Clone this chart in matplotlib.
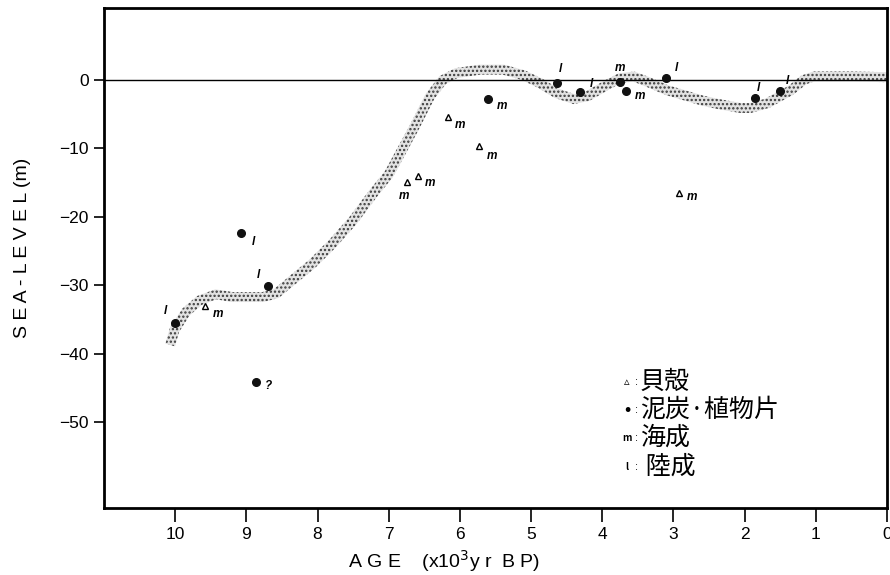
import numpy as np
import matplotlib
matplotlib.use('Agg')
import matplotlib.pyplot as plt
from matplotlib.patches import Polygon

plt.rcParams['font.family'] = ['Liberation Sans', 'DejaVu Sans']
plt.rcParams['hatch.linewidth'] = 1.1

# sea-level curve (centre of the stippled band), age in ka, level in m
curve_age = [10.07, 10.01, 9.85, 9.66, 9.43, 9.20, 9.06, 8.77, 8.58, 8.35, 8.07,
             7.79, 7.50, 7.22, 7.00, 6.89, 6.66, 6.42, 6.24, 6.05, 5.72, 5.39,
             5.11, 4.87, 4.64, 4.40, 4.21, 3.93, 3.75, 3.56, 3.37, 3.09, 2.86,
             2.60, 2.38, 2.06, 1.92, 1.68, 1.35, 1.17, 1.03, 0.51, 0.0]
curve_lvl = [-38.7, -36.5, -33.9, -32.2, -31.3, -31.7, -31.7, -31.7, -31.2, -29.2, -26.8,
             -23.9, -20.5, -16.6, -13.8, -11.7, -7.3, -2.4, 0.0, 1.0, 1.5, 1.5,
             0.7, -0.5, -1.95, -2.8, -2.4, -0.7, 0.25, 0.5, -0.25, -1.5, -2.2,
             -3.0, -3.5, -4.1, -4.1, -3.4, -1.5, 0.0, 0.5, 0.5, 0.4]

# shells (triangles) and peat / plant fragments (dots)
shell_age = [9.58, 6.75, 6.59, 6.17, 5.73, 2.92]
shell_lvl = [-33.0, -14.9, -14.1, -5.4, -9.7, -16.5]
shell_tag = ['m', 'm', 'm', 'm', 'm', 'm']

peat_age = [10.0, 9.07, 8.70, 8.86, 5.61, 4.63, 4.31, 3.75, 3.66, 3.10, 1.86, 1.50]
peat_lvl = [-35.5, -22.3, -30.1, -44.1, -2.8, -0.5, -1.8, -0.25, -1.6, 0.25, -2.6, -1.6]
peat_tag = ['l', 'l', 'l', '?', 'm', 'l', 'l', 'm', 'm', 'l', 'l', 'l']

legend_sym = ['\u25b5', '\u2022', 'm', 'l']
legend_txt = ['貝殻', '泥炭·植物片', '海成', ' 陸成']

# label offsets (points) for each tag
shell_off = [(9, -6), (-2, -10), (9, -5), (9, -6), (9, -7), (9, -3)]
peat_off = [(-7, 9), (9, -7), (-7, 8), (9, -3), (10, -5), (2, 10), (8, 6),
            (0, 10), (10, -4), (7, 7), (3, 7), (5, 7)]

fig = plt.figure(figsize=(8.9, 5.75), dpi=100)
ax = fig.add_axes([104 / 890, 1 - 508 / 575, 783 / 890, 500 / 575])
ax.set_xlim(11.0, 0.0)
ax.set_ylim(-62.5, 10.5)

# stippled band built around the curve in pixel space
xy = np.column_stack([curve_age, curve_lvl])
pix = ax.transData.transform(xy)
d = np.gradient(pix, axis=0)
n = np.column_stack([-d[:, 1], d[:, 0]])
n /= np.linalg.norm(n, axis=1)[:, None]
half = 5.0
poly_pix = np.vstack([pix + n * half, (pix - n * half)[::-1]])
poly = ax.transData.inverted().transform(poly_pix)
ax.add_patch(Polygon(poly, closed=True, facecolor='#e2e2e2', edgecolor='#3a3a3a',
                     hatch='....', linewidth=0, zorder=2))

ax.axhline(0, color='black', lw=1.0, zorder=3)

ax.plot(shell_age, shell_lvl, ls='none', marker='^', ms=5, mfc='white',
        mec='black', mew=1.0, zorder=4)
ax.plot(peat_age, peat_lvl, ls='none', marker='o', ms=5.5, color='#111111', zorder=4)

tag_kw = dict(fontsize=8.5, fontstyle='italic', fontweight='bold', ha='center',
              va='center', textcoords='offset points', zorder=5)
for a, v, t, o in zip(shell_age, shell_lvl, shell_tag, shell_off):
    ax.annotate(t, (a, v), xytext=o, **tag_kw)
for a, v, t, o in zip(peat_age, peat_lvl, peat_tag, peat_off):
    ax.annotate(t, (a, v), xytext=o, **tag_kw)

# legend block written as text
cjk = ['Noto Sans CJK JP', 'DejaVu Sans']
rows_y = [382, 410, 438, 467]
sym_size = [8, 12, 7, 7]
for s, t, ypx, ss in zip(legend_sym, legend_txt, rows_y, sym_size):
    yf = 1 - ypx / 575
    style = 'italic' if s in ('m', 'l') else 'normal'
    fig.text(627 / 890, yf, s, fontsize=ss, fontstyle=style, fontweight='bold',
             ha='center', va='center', family=cjk)
    fig.text(636 / 890, yf, ':', fontsize=8, ha='center', va='center')
    fig.text(640 / 890, yf, t, fontsize=18, ha='left', va='center', family=cjk)

ax.set_xticks(range(10, -1, -1))
ax.set_xticklabels([str(i) for i in range(10, -1, -1)])
ax.set_yticks([0, -10, -20, -30, -40, -50])
ax.set_yticklabels(['0', '\u221210', '\u221220', '\u221230', '\u221240', '\u221250'])
ax.tick_params(axis='x', direction='out', length=10, width=1.2, labelsize=12.5, pad=4)
ax.tick_params(axis='y', direction='out', length=7, width=1.2, labelsize=12.5, pad=4)
for sp in ax.spines.values():
    sp.set_linewidth(2.0)

ax.set_ylabel('S E A - L E V E L (m)', fontsize=14)
ax.yaxis.set_label_coords(-0.093, 0.52)
ax.set_xlabel('A G E    (x10$^3$y r  B P)', fontsize=14)
ax.xaxis.set_label_coords(0.435, -0.08)

fig.savefig('out.png', dpi=100)
